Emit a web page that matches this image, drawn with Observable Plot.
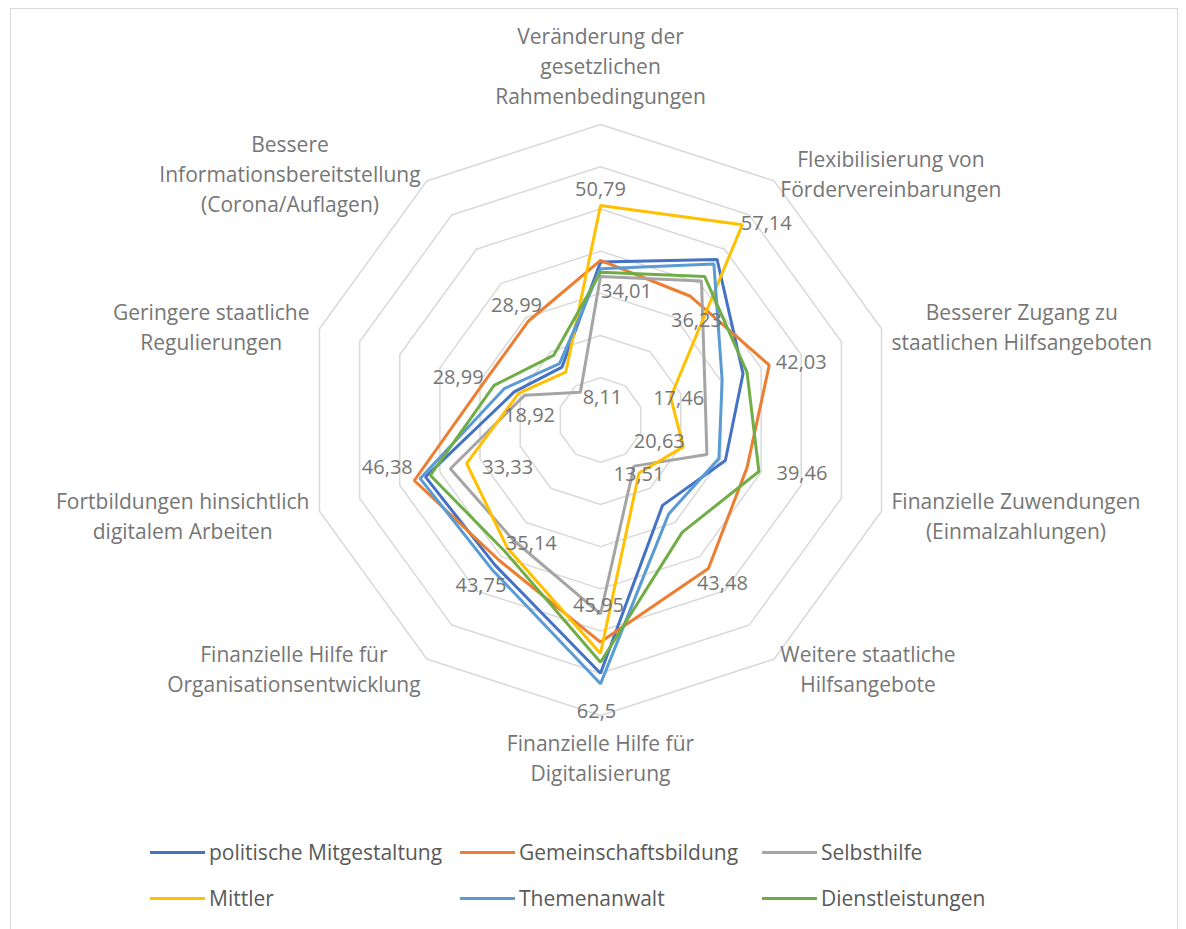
<!DOCTYPE html>
<html><head><meta charset="utf-8">
<script src="https://cdn.jsdelivr.net/npm/d3@7"></script>
<script src="https://cdn.jsdelivr.net/npm/@observablehq/plot@0.6"></script>
<style>
html,body{margin:0;padding:0;background:#fff;}
body{width:1186px;height:929px;position:relative;overflow:hidden;font-family:"Open Sans",sans-serif;}
#frame{position:absolute;left:10px;top:8px;width:1168px;height:940px;border:1px solid #d9d9d9;box-sizing:border-box;}
#chart{position:absolute;left:0;top:0;}
#legend{position:absolute;left:150px;top:829px;display:grid;grid-template-columns:310px 302px auto;grid-auto-rows:46px;color:#595959;font-size:21px;}
.item{display:flex;align-items:center;white-space:nowrap;}
.sw{width:55px;height:3px;margin-right:4px;}
</style></head>
<body>
<div id="frame"></div>
<div id="chart"></div>
<div id="legend"></div>
<script>
// ---- data ----
const axisLabels = [
  "Veränderung der\ngesetzlichen\nRahmenbedingungen",
  "Flexibilisierung von\nFördervereinbarungen",
  "Besserer Zugang zu\nstaatlichen Hilfsangeboten",
  "Finanzielle Zuwendungen\n(Einmalzahlungen)",
  "Weitere staatliche\nHilfsangebote",
  "Finanzielle Hilfe für\nDigitalisierung",
  "Finanzielle Hilfe für\nOrganisationsentwicklung",
  "Fortbildungen hinsichtlich\ndigitalem Arbeiten",
  "Geringere staatliche\nRegulierungen",
  "Bessere\nInformationsbereitstellung\n(Corona/Auflagen)"
];
const seriesNames = ["politische Mitgestaltung","Gemeinschaftsbildung","Selbsthilfe","Mittler","Themenanwalt","Dienstleistungen"];
const politischeMitgestaltung = [37.4, 47.0, 35.5, 31.1, 25.0, 60.0, 42.5, 43.6, 21.5, 15.5];
const gemeinschaftsbildung    = [37.8, 36.23, 42.03, 36.5, 43.48, 52.6, 41.0, 46.38, 28.99, 28.99];
const selbsthilfe             = [34.01, 40.7, 26.0, 26.5, 13.51, 45.95, 35.14, 37.4, 18.92, 8.11];
const mittler                 = [50.79, 57.14, 17.46, 20.63, 15.5, 55.3, 37.5, 33.33, 20.4, 14.0];
const themenanwalt            = [35.8, 45.7, 30.3, 29.5, 27.5, 62.5, 43.75, 44.9, 24.0, 16.5];
const dienstleistungen        = [35.0, 42.0, 36.5, 39.46, 32.9, 57.4, 38.5, 42.4, 26.5, 18.9];
const gridLevels = [10, 20, 30, 40, 50, 60, 70];

// ---- style ----
const seriesColors = ["#4472C4","#ED7D31","#A5A5A5","#FFC000","#5B9BD5","#70AD47"];
const textColor = "#767676";
const font = "Open Sans";
const W = 1186, H = 820, CX = 600, CY = 419.5, RMAX = 295.5, VMAX = 70;
const k = RMAX / VMAX; // px per unit
// data-label placement (pixel offsets from the point), keyed axis-kind
const labelOffsets = {
  "0-max":[0,-16], "0-min":[26,15],
  "1-max":[24,-1], "1-min":[6,24],
  "2-max":[32,-3], "2-min":[8,1],
  "3-max":[43,2],  "3-min":[-24,-5],
  "4-max":[14,15], "4-min":[5,8],
  "5-max":[-4,28], "5-min":[-2,-8],
  "6-max":[-11,16],"6-min":[18,4],
  "7-max":[-27,-13],"7-min":[41,4],
  "8-max":[-26,-5],"8-min":[5,20],
  "9-max":[-12,-15],"9-min":[22,5]
};

const seriesValues = [politischeMitgestaltung, gemeinschaftsbildung, selbsthilfe, mittler, themenanwalt, dienstleistungen];
const N = axisLabels.length;
const ang = i => i * 2 * Math.PI / N;
const px = (v, i) => v * Math.sin(ang(i));
const py = (v, i) => v * Math.cos(ang(i));

const rings = gridLevels.flatMap(l => d3.range(N).map(i => ({level: l, x: px(l, i), y: py(l, i)})));
const lines = seriesNames.flatMap((s, si) => seriesValues[si].map((v, i) => ({series: s, x: px(v, i), y: py(v, i)})));

// data labels: max & min per axis
const dataLabels = [];
for (let i = 0; i < N; i++) {
  const vals = seriesValues.map(a => a[i]);
  const mx = d3.max(vals), mn = d3.min(vals);
  for (const [kind, v] of [["max", mx], ["min", mn]]) {
    const [dx, dy] = labelOffsets[`${i}-${kind}`];
    dataLabels.push({x: px(v, i) + dx / k, y: py(v, i) - dy / k, text: String(v).replace(".", ",")});
  }
}

// axis labels
const ctx = document.createElement("canvas").getContext("2d");
const FS = 21, LH = 30;
ctx.font = `${FS}px "${font}"`;
const axisData = axisLabels.map((t, i) => {
  const ls = t.split("\n");
  const bw = d3.max(ls, l => ctx.measureText(l).width);
  const bh = ls.length * LH;
  const s = Math.sin(ang(i)), c = Math.cos(ang(i));
  let x, y;
  if (Math.abs(s) < 0.1) {
    const R = (c > 0 ? 311 : 306) / k;
    x = R * s;
    y = R * c + Math.sign(c) * (bh / 2) / k;
  } else {
    const R = 306 / k;
    x = R * s + Math.sign(s) * (bw / 2) / k;
    y = R * c;
  }
  return {x, y, text: t};
});

const chart = Plot.plot({
  width: W, height: H, margin: 0,
  x: {domain: [-CX / k, (W - CX) / k], range: [0, W], axis: null},
  y: {domain: [-(H - CY) / k, CY / k], range: [H, 0], axis: null},
  color: {domain: seriesNames, range: seriesColors},
  style: {fontFamily: font, background: "transparent"},
  marks: [
    Plot.line(rings, {x: "x", y: "y", z: "level", curve: "linear-closed", stroke: "#d9d9d9", strokeWidth: 1.5}),
    Plot.line(lines, {x: "x", y: "y", z: "series", stroke: "series", curve: "linear-closed", strokeWidth: 3, strokeLinejoin: "miter"}),
    Plot.text(dataLabels, {x: "x", y: "y", text: "text", fill: textColor, fontSize: 20}),
    Plot.text(axisData, {x: "x", y: "y", text: "text", fill: textColor, fontSize: FS, lineHeight: LH / FS, textAnchor: "middle", lineAnchor: "middle"})
  ]
});
document.getElementById("chart").appendChild(chart);

const legend = document.getElementById("legend");
seriesNames.forEach((s, i) => {
  const it = document.createElement("div");
  it.className = "item";
  it.innerHTML = `<span class="sw" style="background:${seriesColors[i]}"></span><span>${s}</span>`;
  legend.appendChild(it);
});
</script>
</body></html>
